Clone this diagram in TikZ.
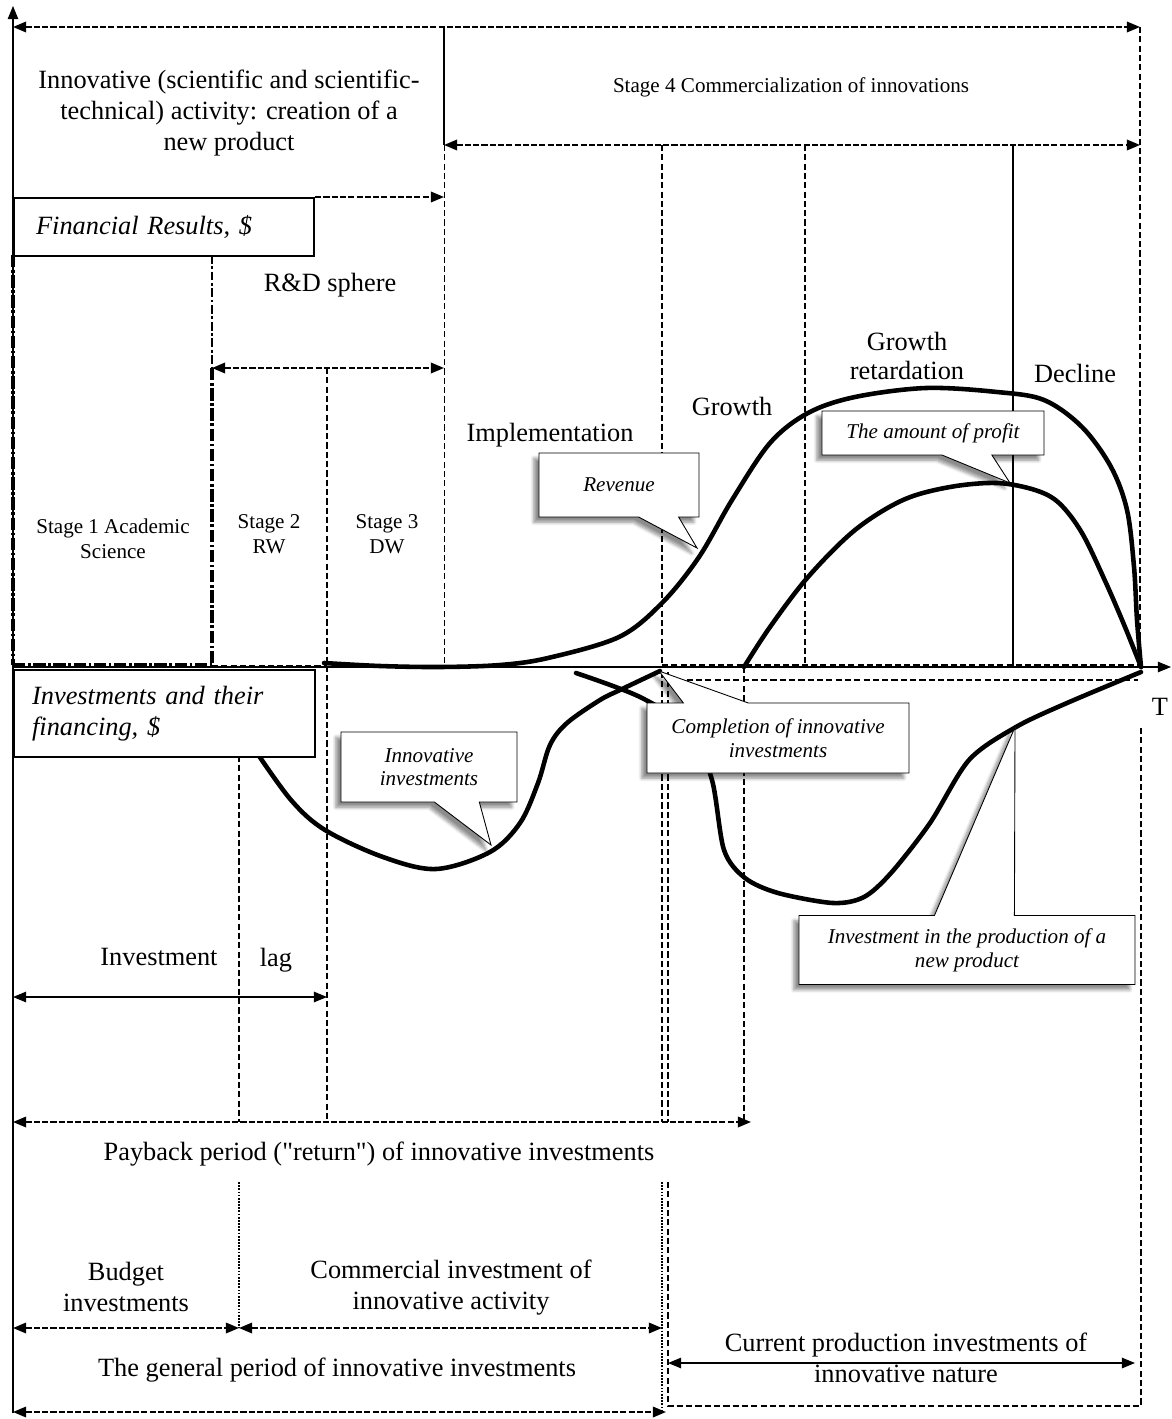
\documentclass[tikz,border=0pt]{standalone}
\usepackage{fontspec}
\setmainfont{Liberation Serif}
\newfontfamily\plainserif{Liberation Serif}[Ligatures=TeXOff]
\usetikzlibrary{arrows.meta,shapes.callouts,shadows.blur}
\tikzset{mytip/.tip={Triangle[length=7.5pt,width=6pt]}}
\begin{document}
\begin{tikzpicture}[x=0.02cm,y=-0.02cm,
  big/.style={font=\fontsize{15}{17.6}\selectfont, align=center, inner sep=0pt},
  mid/.style={font=\fontsize{12}{14}\selectfont, align=center, inner sep=0pt},
  griddash/.style={line width=0.8pt, dash pattern=on 3.5pt off 1.8pt},
  gridthin/.style={line width=0.55pt, dash pattern=on 3.5pt off 1.8pt},
  gridsolid/.style={line width=0.6pt},
  gridddot/.style={line width=0.6pt, dash pattern=on 1pt off 0.8pt},
  dashdotthick/.style={line width=1.8pt, dash pattern=on 7pt off 1.5pt on 1.5pt off 1.5pt},
  dashdotthin/.style={line width=0.8pt, dash pattern=on 5pt off 1.5pt on 1.5pt off 1.5pt},
  bar/.style={line width=1.1pt, dash pattern=on 3.5pt off 1.2pt, {mytip}-{mytip}},
  barr/.style={line width=1.1pt, dash pattern=on 3.5pt off 1.2pt, -{mytip}},
  thinbar/.style={line width=0.7pt, {mytip}-{mytip}},
  axisline/.style={line width=0.6pt, -{mytip}},
  curve/.style={line width=2.6pt, line join=round, line cap=round},
  labelbox/.style={draw, line width=1.3pt, fill=white, anchor=north west,
    font=\fontsize{15}{18}\selectfont\itshape, align=left, inner ysep=0pt},
  note/.style={rectangle callout, draw, line width=0.5pt, fill=white,
    font=\fontsize{12}{13.5}\selectfont\itshape, align=center, inner sep=2pt,
    blur shadow={shadow xshift=-3pt, shadow yshift=-3pt, shadow blur steps=6, shadow opacity=45}},
]
\useasboundingbox (0,0) rectangle (1171,1419);

% ---------- coordinates ----------
\coordinate (yTop) at (13,6);
\coordinate (yBot) at (13,1413);
\coordinate (xL) at (13,667);
\coordinate (xR) at (1171,667);
\coordinate (tA) at (13,27);
\coordinate (tB) at (1140,27);
\coordinate (s4L) at (444,145);
\coordinate (s4R) at (1140,145);
\coordinate (frB) at (444,197);
\coordinate (rdL) at (212,368);
\coordinate (rdR) at (444,368);
\coordinate (lgL) at (13,997);
\coordinate (lgR) at (327,997);
\coordinate (pbL) at (13,1122);
\coordinate (pbR) at (751,1122);
\coordinate (bgL) at (13,1328);
\coordinate (bgM) at (239,1328);
\coordinate (bgR) at (662,1328);
\coordinate (gpL) at (13,1412);
\coordinate (gpR) at (666,1412);
\coordinate (cpL) at (668,1363);
\coordinate (cpR) at (1135,1363);

% ---------- grid: upper part ----------
\draw[line width=1pt] (444,27) -- (444,145);
\draw[gridthin] (444,145) -- (444,667);
\draw[griddash] (1140,27) -- (1140,667);
\draw[griddash] (662,145) -- (662,667);
\draw[griddash] (805,145) -- (805,667);
\draw[gridsolid] (1013,145) -- (1013,667);
\draw[griddash] (662,665) -- (1140,665);
\draw[dashdotthin] (212,255) -- (212,368);
\draw[dashdotthick] (212,368) -- (212,665);
\draw[dashdotthick] (13,255) -- (13,665);
\draw[dashdotthick] (13,665) -- (212,665);
\draw[gridthin] (212,665) -- (327,665);
\draw[griddash] (327,368) -- (327,1120);

% ---------- grid: lower part ----------
\draw[griddash] (239,756) -- (239,1122);
\draw[gridddot] (239,1182) -- (239,1328);
\draw[griddash] (662,672) -- (662,1122);
\draw[gridddot] (662,1182) -- (662,1412);
\draw[griddash] (668,672) -- (668,1122);
\draw[griddash] (744,667) -- (744,1122);
\draw[griddash] (668,680) -- (1138,680);
\draw[griddash] (668,1182) -- (668,1406) -- (1141,1406) -- (1141,727);
\draw[gridthin] (13,27) -- (13,1413);

% ---------- axes ----------
\draw[axisline] (yBot) -- (yTop);
\draw[axisline] (xL) -- (xR);

% ---------- span arrows ----------
\draw[bar] (tA) -- (tB);
\draw[bar] (s4L) -- (s4R);
\draw[bar] (rdL) -- (rdR);
\draw[thinbar] (lgL) -- (lgR);
\draw[bar] (pbL) -- (pbR);
\draw[bar] (bgL) -- (bgM);
\draw[bar] (bgM) -- (bgR);
\draw[bar] (gpL) -- (gpR);
\draw[thinbar] (cpL) -- (cpR);

% ---------- curves ----------
\draw[curve] plot[smooth, tension=0.55] coordinates {(324,663) (380,666) (440,667) (500,665) (548,658) (619,637) (662,603) (699,557) (732,500) (770,443) (808,413) (855,397) (926,388) (997,392) (1044,400) (1082,427) (1111,467) (1127,510) (1134,567) (1137,620) (1141,667)};
\draw[curve] plot[smooth, tension=0.55] coordinates {(744,667) (770,627) (808,577) (855,530) (903,500) (950,487) (997,483) (1035,490) (1059,503) (1082,533) (1106,583) (1125,627) (1141,667)};
\draw[curve] plot[smooth, tension=0.55] coordinates {(255,750) (291,800) (325,830) (383,857) (436,869) (490,852) (520,823) (538,783) (550,745) (567,723) (600,700) (620,690) (660,671)};
\draw[curve] plot[smooth, tension=0.5] coordinates {(576,673) (640,697) (690,730) (712,780) (724,850) (745,878) (778,893) (833,903) (864,897) (891,873) (930,823) (969,760) (1016,727) (1067,703) (1141,672)};

% ---------- boxes ----------
\node[labelbox, text width=5.12cm, inner xsep=0.44cm, minimum height=1.16cm] (fin) at (13,197) {Financial Results, \$};
\draw[barr] (fin.north east) -- (frB);
\node[labelbox, text width=5.3cm, inner xsep=0.36cm, minimum height=1.74cm] (invbox) at (13,669) {Investments and their\\financing, \$};

% ---------- callouts ----------
\node[note, minimum width=3.2cm, minimum height=1.28cm, callout absolute pointer={(697,548)}, callout pointer width=0.8cm] (rev) at (619,485) {Revenue};
\node[note, minimum width=4.44cm, minimum height=0.88cm, callout absolute pointer={(1010,483)}, callout pointer width=1.0cm] (prof) at (933,433) {The amount of profit};
\node[note, minimum width=3.52cm, minimum height=1.4cm, callout absolute pointer={(491,845)}, callout pointer width=0.9cm] (innv) at (429,767) {Innovative\\investments};
\node[note, minimum width=5.24cm, minimum height=1.4cm, callout absolute pointer={(659,671)}, callout pointer width=1.3cm] (compl) at (778,738) {Completion of innovative\\investments};
\node[note, minimum width=6.72cm, minimum height=1.38cm, callout absolute pointer={(1015,727)}, callout pointer width=1.6cm] (prod) at (967,950) {Investment in the production of a\\new product};

% ---------- texts ----------
\node[big] (innov) at (229,113) {Innovative (scientific and scientific-\\technical) activity: creation of a\\new product};
\node[mid] (stage4) at (791,87) {Stage 4 Commercialization of innovations};
\node[big] (rdtext) at (330,285) {R\&D sphere};
\node[mid] (st1) at (113,539) {Stage 1 Academic\\Science};
\node[mid] (st2) at (269,534) {Stage 2\\RW};
\node[mid] (st3) at (387,534) {Stage 3\\DW};
\node[big] (impl) at (550,435) {Implementation};
\node[big] (grw) at (732,406) {Growth};
\node[big, font=\fontsize{15}{16.5}\selectfont] (grr) at (907,356) {Growth\\retardation};
\node[big] (dec) at (1075,373) {Decline};
\node[big] (Tlab) at (1160,707) {T};
\node[big] (invt) at (159,957) {Investment};
\node[big] (lagt) at (276,960) {lag};
\node[big, font=\fontsize{15}{17.6}\selectfont\plainserif] (payt) at (379,1154) {Payback period ("return") of innovative investments};
\node[big] (budt) at (126,1287) {Budget\\investments};
\node[big] (comt) at (451,1288) {Commercial investment of\\innovative activity};
\node[big] (gent) at (337,1370) {The general period of innovative investments};
\node[big] (curt) at (906,1358) {Current production investments of\\innovative nature};
\end{tikzpicture}
\end{document}
